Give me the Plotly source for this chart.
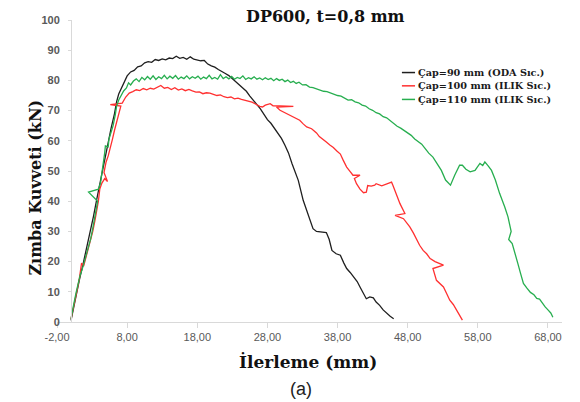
import plotly.graph_objects as go

# x-axis ticks as printed in the original (plain hyphen, decimal comma)
x_ticks = [-2, 8, 18, 28, 38, 48, 58, 68]
x_tick_labels = ["-2,00", "8,00", "18,00", "28,00", "38,00", "48,00", "58,00", "68,00"]

# Çap=90 mm (ODA Sıc.)
x_90 = [0.0, 0.3, 0.7, 1.2, 1.7, 2.2, 2.7, 3.2, 3.7, 4.2, 4.7, 5.2, 5.7, 6.2, 6.5, 6.8, 7.2, 7.6,
        8.0, 8.5, 9.0, 9.5, 10.0, 10.5, 11.0, 11.5, 12.0, 12.5, 13.0, 13.5, 14.0, 14.5, 15.0, 15.5,
        16.0, 16.5, 17.0, 17.5, 18.0, 18.5, 19.0, 19.5, 20.0, 20.5, 21.0, 21.5, 22.0, 22.5, 23.0,
        23.5, 24.0, 24.5, 25.0, 25.5, 26.0, 26.5, 27.0, 27.5, 28.0, 28.5, 29.0, 29.5, 30.0, 30.5,
        31.0, 31.5, 32.0, 32.4, 33.1, 33.8, 34.5, 35.0, 35.7, 36.4, 36.8, 37.2, 37.8, 38.4, 38.9,
        39.3, 39.8, 40.3, 40.8, 41.2, 41.7, 42.1, 42.6, 43.1, 43.5, 44.0, 44.5, 45.0, 45.5, 46.0]
y_90 = [0.5, 4.0, 9.0, 14.0, 19.0, 24.0, 29.0, 35.0, 41.0, 47.0, 53.0, 59.0, 64.0, 69.0, 73.0, 75.5,
        77.5, 79.5, 81.5, 82.8, 83.3, 84.5, 84.8, 85.8, 86.2, 86.0, 86.9, 86.6, 87.1, 86.8, 87.4,
        87.2, 88.0, 87.3, 87.6, 87.0, 87.8, 87.0, 86.8, 86.5, 86.6, 85.4, 84.8, 84.4, 83.6, 82.8,
        82.3, 81.6, 80.6, 79.6, 78.5, 77.6, 76.4, 74.8, 73.2, 72.0, 70.6, 68.8, 67.0, 65.8, 64.0,
        62.4, 60.8, 58.5, 56.0, 52.5, 49.5, 46.9, 40.3, 35.9, 30.9, 30.0, 29.8, 29.6, 27.4, 23.7,
        22.6, 22.1, 19.5, 17.7, 16.4, 15.0, 13.4, 11.6, 9.5, 7.7, 8.3, 8.0, 6.6, 5.5, 4.0, 2.8,
        1.9, 1.1]

# Çap=100 mm (ILIK Sıc.)
x_100 = [0.0, 0.2, 0.5, 0.9, 1.2, 1.5, 1.8, 2.1, 2.5, 2.8, 3.1, 3.4, 3.7, 3.9, 4.1, 4.4, 4.8, 5.2,
         4.7, 5.0, 5.3, 5.6, 5.9, 6.2, 6.5, 6.8, 7.0, 7.1, 5.6, 6.6, 7.3, 7.8, 8.3, 8.8, 9.3, 9.8,
         10.3, 10.8, 11.3, 11.8, 12.3, 12.8, 13.3, 13.8, 14.3, 14.8, 15.3, 15.8, 16.3, 16.8, 17.3,
         17.8, 18.3, 18.8, 19.3, 19.8, 20.3, 20.8, 21.3, 21.8, 22.3, 22.8, 23.3, 23.8, 24.3, 24.8,
         25.3, 25.8, 26.3, 26.9, 27.3, 27.7, 28.4, 28.8, 31.7, 29.3, 29.8, 30.5, 31.2, 31.9, 32.6,
         33.1, 33.6, 34.3, 35.0, 35.4, 35.9, 36.4, 36.9, 37.4, 37.9, 38.4, 38.8, 39.3, 39.8, 40.2,
         41.2, 40.4, 40.7, 41.2, 41.7, 42.1, 42.3, 42.8, 43.3, 43.5, 44.3, 45.0, 45.7, 45.9, 46.4,
         46.9, 47.6, 46.2, 47.4, 48.3, 48.8, 49.3, 49.7, 50.2, 50.7, 51.2, 51.9, 53.1, 51.6, 52.1,
         52.6, 53.1, 53.6, 54.0, 54.5, 55.0, 55.4, 55.8]
y_100 = [1.0, 3.5, 7.0, 11.0, 14.5, 19.5, 18.5, 21.0, 24.5, 27.5, 30.0, 33.5, 37.0, 40.0, 44.0,
         46.0, 47.5, 46.5, 49.5, 53.0, 55.0, 57.5, 60.5, 63.5, 66.0, 68.5, 70.0, 71.5, 72.0, 72.3,
         72.5, 74.5, 75.8, 76.3, 76.9, 76.6, 77.3, 76.9, 77.4, 77.1, 77.8, 78.3, 77.4, 77.7, 77.0,
         77.6, 76.8, 77.2, 76.6, 77.0, 76.5, 76.1, 76.2, 75.6, 75.9, 75.8, 75.4, 75.0, 75.2, 74.6,
         74.3, 74.5, 73.9, 74.1, 73.7, 73.4, 73.0, 72.8, 72.2, 71.4, 71.2, 71.8, 72.3, 71.6, 71.4,
         71.2, 70.1, 69.3, 68.4, 67.6, 66.8, 65.6, 64.6, 64.0, 62.6, 61.4, 60.6, 59.6, 58.6, 57.8,
         56.6, 55.6, 53.6, 51.3, 49.8, 48.6, 48.6, 47.5, 45.8, 44.0, 42.8, 43.0, 45.2, 45.0, 45.3,
         45.8, 45.1, 45.8, 46.3, 45.2, 42.0, 39.2, 35.9, 35.3, 34.2, 31.5, 29.5, 27.0, 25.4, 23.7,
         22.6, 21.0, 20.0, 18.8, 17.7, 13.8, 12.8, 11.6, 9.2, 7.2, 5.8, 3.9, 2.3, 0.6]

# Çap=110 mm (ILIK Sıc.)
x_110 = [0.0, 0.2, 0.4, 0.7, 1.0, 1.3, 1.6, 1.9, 2.2, 2.5, 2.8, 3.1, 3.4, 3.6, 3.8, 2.5, 3.9, 4.2,
         4.4, 4.6, 4.8, 4.9, 5.3, 5.4, 5.7, 6.0, 6.3, 6.5, 6.8, 7.1, 7.5, 7.9, 8.2, 8.5, 8.9, 9.3,
         9.7, 10.1, 10.5, 10.9, 11.3, 11.7, 12.1, 12.5, 12.9, 13.3, 13.7, 14.1, 14.5, 14.9, 15.3,
         15.7, 16.1, 16.5, 16.9, 17.3, 17.7, 18.1, 18.5, 18.9, 19.3, 19.7, 20.1, 20.5, 20.9, 21.3,
         21.7, 22.1, 22.5, 22.9, 23.3, 23.7, 24.1, 24.5, 24.9, 25.3, 25.7, 26.1, 26.5, 26.9, 27.3,
         27.7, 28.1, 28.5, 28.9, 29.3, 29.7, 30.1, 30.5, 30.9, 31.3, 31.7, 32.1, 32.5, 33.0, 33.5,
         34.0, 34.5, 35.0, 35.5, 36.0, 36.5, 37.0, 37.5, 38.0, 38.5, 39.0, 39.5, 40.0, 40.5, 41.0,
         41.5, 42.0, 42.5, 43.0, 43.5, 44.0, 44.5, 45.0, 45.5, 46.0, 46.5, 47.0, 47.5, 48.0, 48.5,
         49.0, 49.5, 50.0, 50.5, 51.0, 51.6, 52.2, 52.8, 53.4, 54.1, 54.7, 55.1, 55.4, 55.8, 56.3,
         56.9, 57.6, 57.9, 58.3, 58.7, 59.0, 59.5, 59.95, 60.5, 61.1, 61.85, 62.3, 62.75, 62.4,
         62.9, 63.3, 63.7, 64.1, 64.5, 65.0, 65.5, 66.0, 66.4, 66.8, 67.2, 67.6, 68.0, 68.4, 68.7]
y_110 = [1.0, 4.0, 6.0, 9.5, 13.0, 15.5, 17.5, 20.0, 22.5, 24.5, 27.5, 31.0, 35.0, 38.0, 40.0,
         43.0, 44.0, 46.0, 49.0, 52.0, 56.0, 58.3, 58.0, 60.5, 62.5, 65.0, 68.5, 71.5, 73.5, 75.0,
         76.5, 77.5, 79.2, 78.5, 79.8, 80.5, 79.6, 81.0, 80.2, 81.3, 80.4, 81.5, 80.3, 81.2, 80.6,
         81.7, 80.5, 81.4, 80.7, 81.6, 80.4, 81.1, 80.6, 81.5, 80.5, 81.2, 80.7, 81.4, 80.4, 81.1,
         80.6, 81.7, 80.5, 81.0, 80.4, 81.9, 80.6, 81.2, 80.5, 81.3, 80.4, 81.0, 80.6, 81.5, 80.3,
         80.9, 80.5, 81.2, 80.4, 80.8, 80.2, 80.9, 80.3, 80.7, 79.9, 80.6, 80.0, 80.4, 79.6, 80.1,
         79.3, 79.7, 79.0, 79.4, 78.5, 78.6, 77.8, 77.6, 77.2, 76.9, 76.4, 76.3, 75.8, 75.4, 75.0,
         74.8, 74.2, 73.5, 73.6, 72.9, 72.6, 71.8, 71.5, 70.6, 70.1, 69.3, 68.9, 68.0, 67.6, 66.6,
         65.8, 64.8, 64.2, 63.4, 62.7, 61.8, 60.6, 59.8, 58.9, 57.4, 55.9, 54.6, 52.5, 50.2, 47.0,
         45.3, 48.6, 50.4, 51.9, 51.9, 50.6, 49.7, 50.2, 51.2, 52.5, 51.8, 53.0, 51.6, 50.2, 47.0,
         42.6, 38.0, 34.8, 30.0, 27.3, 26.0, 23.0, 19.4, 16.0, 12.8, 11.2, 9.8, 9.0, 7.8, 7.6, 6.2,
         5.0, 4.0, 3.0, 1.6]

series = [
    ("Çap=90 mm (ODA Sıc.)", x_90, y_90, "#1f1f1f"),
    ("Çap=100 mm (ILIK Sıc.)", x_100, y_100, "#ff3030"),
    ("Çap=110 mm (ILIK Sıc.)", x_110, y_110, "#27ae4f"),
]

serif = "DejaVu Serif"
sans = "Liberation Sans"

fig = go.Figure()
for name, xs, ys, color in series:
    fig.add_trace(go.Scatter(x=xs, y=ys, mode="lines", name=name,
                             line=dict(color=color, width=1.3), showlegend=False))

# legend drawn by hand so the short line samples match the original
leg_y = [0.826, 0.782, 0.737]
for (name, xs, ys, color), ly in zip(series, leg_y):
    fig.add_shape(type="line", xref="paper", yref="paper", x0=0.683, x1=0.709, y0=ly, y1=ly,
                  line=dict(color=color, width=1.5))
    fig.add_annotation(text=name, xref="paper", yref="paper", x=0.711, y=ly,
                       xanchor="left", yanchor="middle", showarrow=False,
                       font=dict(family=serif, size=9.7, color="#1a1a1a", weight="bold"))

fig.add_annotation(text="DP600, t=0,8 mm", xref="paper", yref="paper", x=0.532, y=1.011,
                   xanchor="center", yanchor="middle", showarrow=False,
                   font=dict(family=serif, size=16, color="#111111", weight="bold"))
fig.add_annotation(text="İlerleme (mm)", xref="paper", yref="paper", x=0.497, y=-0.132,
                   xanchor="center", yanchor="middle", showarrow=False,
                   font=dict(family=serif, size=17, color="#111111", weight="bold"))
fig.add_annotation(text="(a)", xref="paper", yref="paper", x=0.483, y=-0.223,
                   xanchor="center", yanchor="middle", showarrow=False,
                   font=dict(family="Liberation Sans", size=18, color="#222222"))
fig.add_annotation(text="Zımba Kuvveti (kN)", xref="paper", yref="paper", x=-0.043, y=0.446,
                   xanchor="center", yanchor="middle", showarrow=False, textangle=-90,
                   font=dict(family=serif, size=16, color="#111111", weight="bold"))

# the page adds an 8px body margin, so the margins here are 8px smaller on top/left
fig.update_layout(
    width=580, height=402,
    margin=dict(l=49, r=26, t=12, b=88, autoexpand=False),
    paper_bgcolor="white", plot_bgcolor="white",
    showlegend=False,
    xaxis=dict(range=[-2, 70], tickmode="array", tickvals=x_ticks, ticktext=x_tick_labels,
               ticks="outside", ticklen=5, tickcolor="#d9d9d9",
               showline=True, linecolor="#d9d9d9", linewidth=1,
               showgrid=False, zeroline=False,
               tickfont=dict(family=sans, size=11, color="#595959")),
    yaxis=dict(range=[0, 100], dtick=10, anchor="free", position=2 / 72,
               ticks="outside", ticklen=3, tickcolor="#d9d9d9", ticklabelstandoff=6,
               showline=True, linecolor="#d9d9d9", linewidth=1,
               showgrid=False, zeroline=False,
               tickfont=dict(family=sans, size=11, color="#595959", weight="bold")),
)

fig.write_html("out.html")
